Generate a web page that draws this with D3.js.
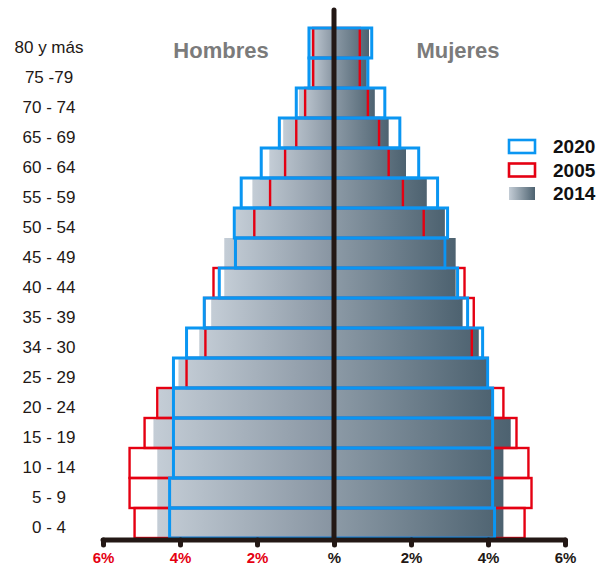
<!DOCTYPE html>
<html>
<head>
<meta charset="utf-8">
<script src="https://cdn.jsdelivr.net/npm/d3@7"></script>
<style>
  html, body { margin: 0; padding: 0; background: #fff; }
  svg { display: block; }
  text { font-family: "Liberation Sans", Arial, sans-serif; }
</style>
</head>
<body>
<svg id="chart" width="598" height="567"></svg>
<script>
// Age groups, oldest at the top
const ages = ["80 y más", "75 -79", "70 - 74", "65 - 69", "60 - 64", "55 - 59", "50 - 54",
  "45 - 49", "40 - 44", "35 - 39", "34 - 30", "25 - 29", "20 - 24", "15 - 19",
  "10 - 14", "5 - 9", "0 - 4"];

// Share of population (%) per age group
const men2014   = [0.62, 0.62, 0.91, 1.32, 1.68, 2.12, 2.56, 2.85, 2.85, 3.19, 3.50, 4.04, 4.55, 4.69, 4.59, 4.59, 4.59];
const men2020   = [0.65, 0.65, 0.98, 1.42, 1.89, 2.41, 2.59, 2.56, 2.98, 3.37, 3.83, 4.17, 4.17, 4.17, 4.17, 4.27, 4.27];
const men2005   = [0.54, 0.54, 0.75, 0.98, 1.27, 1.66, 2.07, 2.56, 3.13, 3.37, 3.34, 3.83, 4.59, 4.92, 5.31, 5.31, 5.18];
const women2014 = [0.91, 0.85, 1.06, 1.42, 1.87, 2.41, 2.88, 3.16, 3.16, 3.34, 3.76, 4.00, 4.15, 4.59, 4.40, 4.40, 4.40];
const women2020 = [0.98, 0.88, 1.32, 1.71, 2.20, 2.69, 2.95, 2.88, 3.21, 3.47, 3.86, 3.99, 4.12, 4.12, 4.12, 4.12, 4.17];
const women2005 = [0.67, 0.67, 0.88, 1.17, 1.42, 1.79, 2.33, 2.88, 3.39, 3.63, 3.58, 3.99, 4.40, 4.74, 5.05, 5.13, 4.95];

const tickValues = [-6, -4, -2, 0, 2, 4, 6];
const tickLabels = ["6%", "4%", "2%", "%", "2%", "4%", "6%"];
const legendYears = ["2020", "2005", "2014"];

const svg = d3.select("#chart");
const BLUE = "#0a96f2", RED = "#e50012", INK = "#231815";

// Signed scale: men to the left (negative), women to the right
const x = d3.scaleLinear().domain([-6, 6]).range([103, 565]);
const y = d3.scaleBand().domain(ages).range([28, 538]).padding(0);

// Gradients for the 2014 bars
const defs = svg.append("defs");
function grad(id, c0, c1) {
  const g = defs.append("linearGradient").attr("id", id)
    .attr("x1", "0").attr("x2", "1").attr("y1", "0").attr("y2", "0");
  g.append("stop").attr("offset", "0").attr("stop-color", c0);
  g.append("stop").attr("offset", "1").attr("stop-color", c1);
}
grad("gMen", "#c4cdd6", "#8794a1");
grad("gWomen", "#8c9aa6", "#4d6270");
grad("gLegend", "#c4cdd6", "#4d6270");

const rows = ages.map((a, i) => ({
  age: a,
  m14: men2014[i], m20: men2020[i], m05: men2005[i],
  w14: women2014[i], w20: women2020[i], w05: women2005[i]
}));

// 2014 bars (filled)
svg.append("g").selectAll("rect").data(rows).join("rect")
  .attr("x", d => x(-d.m14)).attr("y", d => y(d.age))
  .attr("width", d => x(0) - x(-d.m14)).attr("height", y.bandwidth())
  .attr("fill", "url(#gMen)");
svg.append("g").selectAll("rect").data(rows).join("rect")
  .attr("x", x(0)).attr("y", d => y(d.age))
  .attr("width", d => x(d.w14) - x(0)).attr("height", y.bandwidth())
  .attr("fill", "url(#gWomen)");

// Outline bars for a given year
function outlines(keyM, keyW, color, sw) {
  const g = svg.append("g").attr("fill", "none").attr("stroke", color).attr("stroke-width", sw);
  g.selectAll("rect.m").data(rows).join("rect").attr("class", "m")
    .attr("x", d => x(-d[keyM])).attr("y", d => y(d.age))
    .attr("width", d => x(0) - x(-d[keyM])).attr("height", y.bandwidth());
  g.selectAll("rect.w").data(rows).join("rect").attr("class", "w")
    .attr("x", x(0)).attr("y", d => y(d.age))
    .attr("width", d => x(d[keyW]) - x(0)).attr("height", y.bandwidth());
}
outlines("m05", "w05", RED, 2.4);
outlines("m20", "w20", BLUE, 3);

// Central axis line
svg.append("line")
  .attr("x1", x(0)).attr("x2", x(0)).attr("y1", 10).attr("y2", 540)
  .attr("stroke", INK).attr("stroke-width", 5).attr("stroke-linecap", "round");

// Bottom axis
const axis = svg.append("g").attr("transform", "translate(0,540)")
  .call(d3.axisBottom(x).tickValues(tickValues).tickSizeOuter(0).tickSize(5)
    .tickFormat((d, i) => tickLabels[i]));
axis.select(".domain").attr("stroke", INK).attr("stroke-width", 5)
  .attr("d", `M${x(-6)},0H${x(6)}`).attr("stroke-linecap", "round");
axis.selectAll(".tick line").attr("stroke", INK).attr("stroke-width", 5).attr("stroke-linecap", "round");
axis.selectAll(".tick text")
  .attr("y", 12)
  .attr("font-family", "'Liberation Sans', Arial, sans-serif")
  .attr("font-size", 15).attr("font-weight", "bold")
  .attr("fill", d => d < 0 ? RED : INK);

// Age labels
svg.append("g").selectAll("text").data(ages).join("text")
  .attr("x", 49).attr("y", d => y(d) + y.bandwidth() / 2 + 4)
  .attr("dy", "0.35em").attr("text-anchor", "middle")
  .attr("font-size", 17).attr("fill", INK).text(d => d);

// Side titles
svg.append("text").attr("x", 221).attr("y", 58).attr("text-anchor", "middle")
  .attr("font-size", 22).attr("font-weight", "bold").attr("fill", "#7b7b7b").text("Hombres");
svg.append("text").attr("x", 458).attr("y", 58).attr("text-anchor", "middle")
  .attr("font-size", 22).attr("font-weight", "bold").attr("fill", "#7b7b7b").text("Mujeres");

// Legend
const lg = svg.append("g").attr("transform", "translate(509,140)");
const legendStyles = [
  { stroke: BLUE, fill: "#fff" },
  { stroke: RED, fill: "#fff" },
  { stroke: "none", fill: "url(#gLegend)" }
];
legendYears.forEach((yr, i) => {
  const s = legendStyles[i];
  lg.append("rect").attr("x", 0).attr("y", i * 23.5).attr("width", 26).attr("height", 13)
    .attr("fill", s.fill).attr("stroke", s.stroke).attr("stroke-width", s.stroke === "none" ? 0 : 2.6);
  lg.append("text").attr("x", 44).attr("y", i * 23.5 + 6.5).attr("dy", "0.36em")
    .attr("font-size", 19).attr("font-weight", "bold").attr("fill", "#111").text(yr);
});
</script>
</body>
</html>
